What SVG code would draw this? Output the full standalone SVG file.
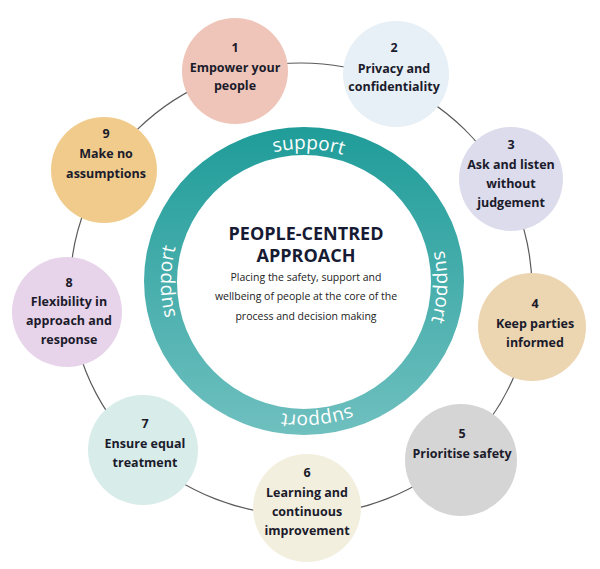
<svg xmlns="http://www.w3.org/2000/svg" width="600" height="569" viewBox="0 0 600 569">
<defs>
<linearGradient id="ringGrad" x1="0" y1="0" x2="0" y2="1">
<stop offset="0" stop-color="#1f9c99"/>
<stop offset="1" stop-color="#6fc0bf"/>
</linearGradient>
<path id="supportPath" d="M209.95,187.95 A133,133 0 1,1 398.05,376.05 A133,133 0 1,1 209.95,187.95"/>
</defs>
<style>
.node-label{font-family:"Open Sans","Noto Sans","Liberation Sans",sans-serif;font-weight:700;font-size:12.5px;fill:#1b1b2b;text-anchor:middle}
.sup{font-family:"Open Sans","Noto Sans","Liberation Sans",sans-serif;font-size:19px;fill:#ffffff;text-anchor:middle}
.title{font-family:"Open Sans","Noto Sans","Liberation Sans",sans-serif;font-weight:700;font-size:18px;fill:#161a33;text-anchor:middle}
.sub{font-family:"Open Sans","Noto Sans","Liberation Sans",sans-serif;font-size:10.5px;fill:#222222;text-anchor:middle}
.conn{fill:none;stroke:#5a5a5a;stroke-width:1.2}
</style>
<rect width="600" height="569" fill="#ffffff"/>
<g id="connectors">
<ellipse class="conn" cx="301" cy="289" rx="231" ry="226"/>
</g>
<g id="center">
<path d="M144,281 A160,154 0 1,1 464,281 A160,154 0 1,1 144,281 Z M177,282 A127,127 0 1,0 431,282 A127,127 0 1,0 177,282 Z" fill="url(#ringGrad)" fill-rule="evenodd"/>
<text class="sup"><textPath href="#supportPath" startOffset="109">support</textPath></text>
<text class="sup"><textPath href="#supportPath" startOffset="318">support</textPath></text>
<text class="sup"><textPath href="#supportPath" startOffset="509">support</textPath></text>
<text class="sup"><textPath href="#supportPath" startOffset="731">support</textPath></text>
<text class="title" x="306" y="240">PEOPLE-CENTRED</text>
<text class="title" x="306" y="262">APPROACH</text>
<text class="sub" x="306" y="281">Placing the safety, support and</text>
<text class="sub" x="306" y="300">wellbeing of people at the core of the</text>
<text class="sub" x="306" y="320">process and decision making</text>
</g>
<g id="node1">
<circle cx="235" cy="71" r="53" fill="#eec5b8"/>
<text class="node-label" x="235" y="52">1</text>
<text class="node-label" x="235" y="72">Empower your</text>
<text class="node-label" x="235" y="90">people</text>
</g>
<g id="node2">
<circle cx="396" cy="74" r="53" fill="#e7f0f6"/>
<text class="node-label" x="394" y="52">2</text>
<text class="node-label" x="394" y="73">Privacy and</text>
<text class="node-label" x="394" y="91">confidentiality</text>
</g>
<g id="node3">
<circle cx="511" cy="179" r="52" fill="#dcdcec"/>
<text class="node-label" x="511" y="149">3</text>
<text class="node-label" x="511" y="169">Ask and listen</text>
<text class="node-label" x="511" y="188">without</text>
<text class="node-label" x="511" y="207">judgement</text>
</g>
<g id="node4">
<circle cx="532" cy="327" r="54" fill="#ecd5b1"/>
<text class="node-label" x="535" y="308">4</text>
<text class="node-label" x="535" y="328">Keep parties</text>
<text class="node-label" x="535" y="347">informed</text>
</g>
<g id="node5">
<circle cx="461" cy="460" r="56" fill="#d5d5d5"/>
<text class="node-label" x="462" y="438">5</text>
<text class="node-label" x="462" y="458">Prioritise safety</text>
</g>
<g id="node6">
<circle cx="307" cy="508" r="54" fill="#f2efdf"/>
<text class="node-label" x="307" y="477">6</text>
<text class="node-label" x="307" y="497">Learning and</text>
<text class="node-label" x="307" y="516">continuous</text>
<text class="node-label" x="307" y="535">improvement</text>
</g>
<g id="node7">
<circle cx="143" cy="450" r="55" fill="#d8ecea"/>
<text class="node-label" x="145" y="428">7</text>
<text class="node-label" x="145" y="448">Ensure equal</text>
<text class="node-label" x="145" y="467">treatment</text>
</g>
<g id="node8">
<circle cx="67" cy="312" r="55" fill="#e7d3ea"/>
<text class="node-label" x="69" y="287">8</text>
<text class="node-label" x="69" y="306">Flexibility in</text>
<text class="node-label" x="69" y="325">approach and</text>
<text class="node-label" x="69" y="344">response</text>
</g>
<g id="node9">
<circle cx="104" cy="170" r="53" fill="#f0cb8b"/>
<text class="node-label" x="106" y="138">9</text>
<text class="node-label" x="106" y="158">Make no</text>
<text class="node-label" x="106" y="178">assumptions</text>
</g>
</svg>
